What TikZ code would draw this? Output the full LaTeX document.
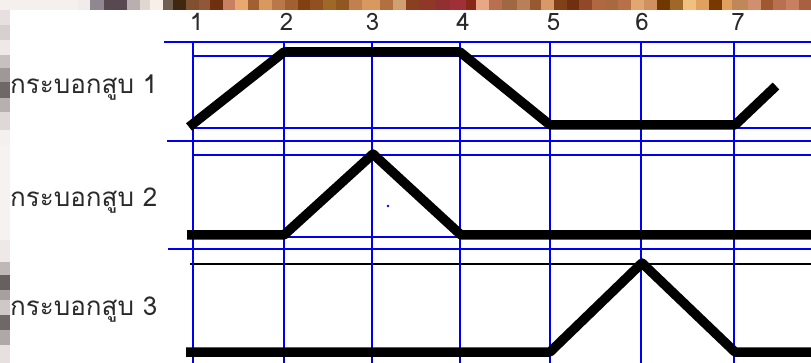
\documentclass[tikz,border=0pt]{standalone}
\usepackage{fontspec}
\newfontfamily\thaifont[Script=Thai]{Loma}
\definecolor{gridblue}{HTML}{0000F0}
\definecolor{labelgray}{HTML}{2A2A2A}
\begin{document}
\begin{tikzpicture}[x=1pt,y=-1pt,
  gridline/.style={draw=gridblue,line width=2.4pt},
  thinblack/.style={draw=black,line width=2pt},
  wave/.style={draw=black,line width=9.5pt,line join=round,line cap=butt},
  rowlabel/.style={anchor=west,inner sep=0pt,text=labelgray,font=\thaifont\fontsize{26}{30}\selectfont},
  numlabel/.style={anchor=center,inner sep=0pt,text=labelgray,font=\thaifont\fontsize{24}{28}\selectfont}]
\useasboundingbox (0,0) rectangle (811,363);
\fill[white] (0,0) rectangle (811,363);
% top pixelated strip
\foreach \a/\b/\c in {0/78/F5F0EE,78/90/F0ECEC,90/104/908890,104/127/584850,127/140/B8B0B0,140/150/E0D8D0,150/163/F8F0E8,163/173/706050,173/186/402810,186/199/805030,199/210/905838,210/223/703010,223/235/C88060,235/248/E8A870,248/259/A06030,259/272/D89860,272/285/B87848,285/298/A06030,298/310/804010,310/323/905020,323/336/A06828,336/349/905820,349/362/C08050,362/380/D89860,380/393/B07040,393/406/D0A070,406/419/884020,419/435/903828,435/450/903030,450/466/A03038,466/476/882818,476/489/E8A888,489/502/B87050,502/517/A06840,517/530/B88058,530/541/985830,541/554/D89868,554/567/804018,567/579/703010,579/592/904828,592/605/B06840,605/618/A86840,618/631/B87048,631/644/E0A870,644/657/D09060,657/670/703800,670/683/A06828,683/696/F0C080,696/709/E0A060,709/722/783800,722/732/E0A060,732/748/C08858,748/761/D09070,761/773/A05830,773/786/B87050,786/799/C88060,799/811/A86040}{
  \definecolor{stripc}{HTML}{\c}
  \fill[stripc] (\a,0) rectangle (\b,10);
}
% left pixelated column
\foreach \a/\b/\c in {10/25/E8E0E0,25/40/D8D0D0,40/55/F0E8E8,55/68/C8C0C0,68/82/A09898,82/98/706868,98/112/B8B0B0,112/130/E0D8D8,130/145/F4F0F0,145/240/F6F2F2,240/262/EEE8E8,262/275/C0B8B8,275/290/686060,290/300/A8A0A0,300/315/D0C8C8,315/330/706868,330/345/B0A8A8,345/363/E8E0E0}{
  \definecolor{stripc}{HTML}{\c}
  \fill[stripc] (0,\a) rectangle (10,\b);
}
% column positions
\coordinate (c1) at (193,0);
\coordinate (c2) at (284,0);
\coordinate (c3) at (372,0);
\coordinate (c4) at (460,0);
\coordinate (c5) at (550,0);
\coordinate (c6) at (641,0);
\coordinate (c7) at (734,0);
% horizontal grid lines
\draw[gridline] (164,42) -- (811,42);
\draw[gridline] (193,56) -- (811,56);
\draw[gridline] (193,128) -- (811,128);
\draw[gridline] (167,141) -- (811,141);
\draw[gridline] (193,155) -- (811,155);
\draw[gridline] (193,237) -- (811,237);
\draw[gridline] (168,249) -- (811,249);
\draw[thinblack] (190,264) -- (811,264);
% vertical grid lines
\foreach \n in {1,...,7}{
  \draw[gridline] (c\n |- 0,41) -- (c\n |- 0,363);
}
% stray dot
\fill[gridblue] (388,206) circle (1.3);
% column numbers
\foreach \n/\dx in {1/3.5,2/2.5,3/0.5,4/3,5/3.5,6/1,7/4}{
  \node[numlabel] (n\n) at ([xshift=\dx pt]c\n |- 0,22) {\n};
}
% row labels
\node[rowlabel] (r1) at (10,88) {กระบอกสูบ 1};
\node[rowlabel] (r2) at (10,201) {กระบอกสูบ 2};
\node[rowlabel] (r3) at (10,310) {กระบอกสูบ 3};
% waveform 1
\coordinate (a0) at (189,127);
\coordinate (a1) at (284,52);
\coordinate (a2) at (460,52);
\coordinate (a3) at (550,125);
\coordinate (a4) at (735,125);
\coordinate (a5) at (776,86);
\draw[wave] (a0) -- (a1) -- (a2) -- (a3) -- (a4) -- (a5);
% waveform 2
\coordinate (b0) at (187,235);
\coordinate (b1) at (284,235);
\coordinate (b2) at (373,154);
\coordinate (b3) at (461,235);
\coordinate (b4) at (811,235);
\draw[wave] (b0) -- (b1) -- (b2) -- (b3) -- (b4);
% waveform 3
\coordinate (d0) at (186,352);
\coordinate (d1) at (550,352);
\coordinate (d2) at (642,263);
\coordinate (d3) at (735,352);
\coordinate (d4) at (811,352);
\draw[wave] (d0) -- (d1) -- (d2) -- (d3) -- (d4);
\end{tikzpicture}
\end{document}
